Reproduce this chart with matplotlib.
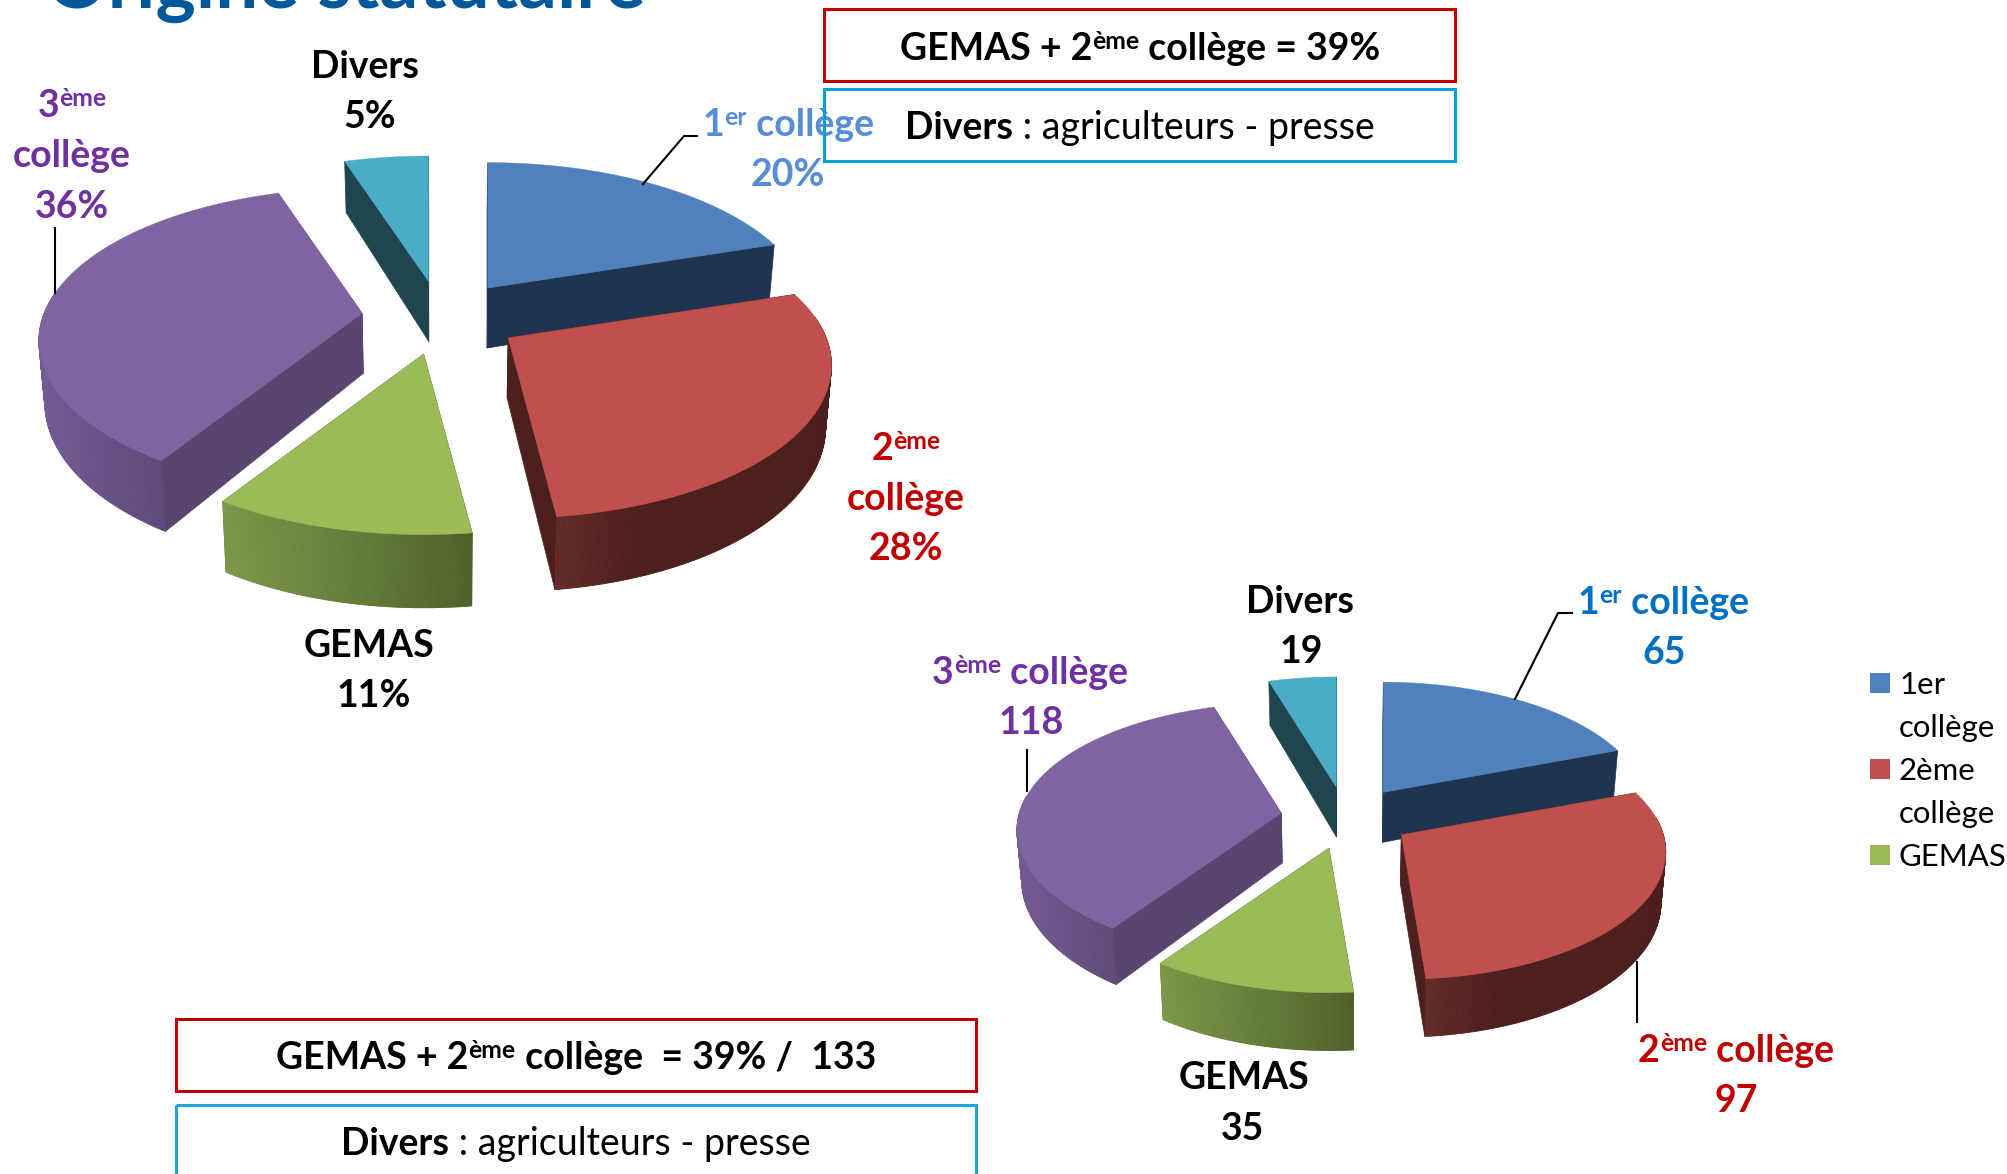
import numpy as np
import matplotlib
matplotlib.use("Agg")
import matplotlib.pyplot as plt
from matplotlib.colors import to_rgb
from matplotlib.patches import Rectangle

plt.rcParams['font.family'] = ['Lato', 'DejaVu Sans']

# ---- data
categories = ['1er collège', '2ème collège', 'GEMAS', '3ème collège', 'Divers']
share_pct = [20, 28, 11, 36, 5]            # printed on the left pie
counts = [65, 97, 35, 118, 19]             # printed on the right pie
right_slice_sizes = [19.3, 29.4, 11, 35.6, 4.7]  # slice sizes
legend_labels = [['1er', 'collège'], ['2ème', 'collège'], ['GEMAS']]

top_colors = ['#4F81BD', '#C0504D', '#9BBB59', '#8064A2', '#4BACC6']
wall_colors = ['#1F344F', '#4D1F1D', '#4F6228', '#59456F', '#1F4650']
rim_stops = [
    [(0, '#1F344F'), (1, '#1F344F')],
    [(0, '#642B27'), (.3, '#4C1E1C'), (1, '#4C1E1C')],
    [(0, '#7C9849'), (1, '#4E6129')],
    [(0, '#745A94'), (1, '#5E4A78')],
    [(0, '#1F4650'), (1, '#1F4650')],
]
BLUE1, BLUE2, PURPLE, RED, BLACK = '#558ED5', '#0070C0', '#7030A0', '#C00000', '#000000'
TITLE = '#00589A'
FS = 27

fig = plt.figure(figsize=(20.07, 11.74), dpi=100)
ax = fig.add_axes([0, 0, 1, 1])
ax.set_xlim(0, 2007)
ax.set_ylim(1174, 0)
ax.axis('off')
rend = fig.canvas.get_renderer()


def pie3d(values, cx, cy, rx, ry, p, d, e=.25, squeeze=.985):
    vals = np.asarray(values, float)
    edges = np.concatenate([[0], np.cumsum(vals)]) / vals.sum() * 2 * np.pi
    mids = (edges[:-1] + edges[1:]) / 2
    order = np.argsort(-np.cos(mids))

    def top(t, r, ax0, ay0):
        s = 1 + p * r * np.cos(t)
        return ax0 + rx * r * np.sin(t) / s, ay0 - ry * r * np.cos(t) / s

    def bot(t, r, ax0, ay0):
        s = 1 + p * r * np.cos(t)
        x, y = top(t, r, ax0, ay0)
        return cx + (x - cx) * squeeze, y + d / s

    for i in order:
        a0 = cx + e * rx * np.sin(mids[i])
        b0 = cy - e * ry * np.cos(mids[i])
        t1, t2 = edges[i], edges[i + 1]
        for t in (t1, t2):
            x1, y1 = top(t, 0, a0, b0)
            x2, y2 = top(t, 1, a0, b0)
            x3, y3 = bot(t, 1, a0, b0)
            x4, y4 = bot(t, 0, a0, b0)
            ax.fill([x1, x2, x3, x4], [y1, y2, y3, y4], color=wall_colors[i], lw=.5, zorder=2 + .01 * i)
        th = np.linspace(t1, t2, 180)
        vis = th[np.cos(th) < 0.15]
        if len(vis) > 1:
            xs = top(vis, 1, a0, b0)[0]
            lo, hi = xs.min(), xs.max()
            stops = rim_stops[i]
            pos = [s[0] for s in stops]
            rgb = np.array([to_rgb(s[1]) for s in stops])
            for a, b in zip(vis[:-1], vis[1:]):
                xa, ya = top(a, 1, a0, b0)
                xb, yb = top(b, 1, a0, b0)
                xc, yc = bot(b, 1, a0, b0)
                xd, yd = bot(a, 1, a0, b0)
                f = ((xa + xb) / 2 - lo) / max(hi - lo, 1)
                col = [np.interp(f, pos, rgb[:, k]) for k in range(3)]
                ax.fill([xa, xb, xc, xd], [ya, yb, yc, yd], color=col, lw=.6, zorder=2.2)
        x, y = top(th, 1, a0, b0)
        ax.fill(np.r_[a0, x], np.r_[b0, y], color=top_colors[i], lw=.3, zorder=3 + .01 * np.where(order == i)[0][0])


def advance(s, size, weight):
    def w(q):
        t = ax.text(0, 0, q, fontsize=size, fontweight=weight)
        v = t.get_window_extent(rend).width
        t.remove()
        return v
    return w('x' + s + 'x') - w('xx')


def rich(segs, xc, y, color=BLACK, size=FS, z=6):
    """segs: (text, 'b'|'r'|'s') ; centred on xc, baseline y"""
    y = y + 1
    sizes = {'b': size, 'r': size, 's': size * .66}
    wgts = {'b': 'bold', 'r': 'normal', 's': 'bold'}
    widths = [advance(s, sizes[k], wgts[k]) for s, k in segs]
    x = xc - sum(widths) / 2
    for (s, k), wd in zip(segs, widths):
        dy = -size * .42 if k == 's' else 0
        ax.text(x, y + dy, s, fontsize=sizes[k], fontweight=wgts[k], color=color, ha='left', va='baseline', zorder=z)
        x += wd


def box(x0, y0, x1, y1, color):
    ax.add_patch(Rectangle((x0, y0), x1 - x0, y1 - y0, fill=False, ec=color, lw=2.2, zorder=8, clip_on=True))


def leader(xs, ys):
    ax.plot(xs, ys, color='black', lw=1.5, zorder=5, solid_joinstyle='miter')


# title (cut by the top edge, as in the reference)
ax.text(46, 8, 'Origine statutaire', fontsize=55, fontweight='bold', color=TITLE, ha='left', va='baseline', zorder=6)

# pies
pie3d(share_pct, 441, 318, 318, 148, .18, 60)
pie3d(right_slice_sizes, 1346, 818, 262, 125, .135, 50)

# boxes
box(824, 9, 1455, 81, RED)
box(824, 89, 1455, 161, '#00A0D8')
box(176, 1019, 976, 1091, RED)
box(176, 1105, 976, 1190, '#1CA8DC')
rich([('GEMAS + 2', 'b'), ('ème', 's'), (' collège = 39%', 'b')], 1140, 59)
rich([('Divers', 'b'), (' : agriculteurs - presse', 'r')], 1140, 138)
rich([('GEMAS + 2', 'b'), ('ème', 's'), (' collège  = 39% /  133', 'b')], 576, 1068)
rich([('Divers', 'b'), (' : agriculteurs - presse', 'r')], 576, 1154)

# left pie labels
rich([('Divers', 'b')], 365, 77)
rich([(f'{share_pct[4]}%', 'b')], 370, 127)
rich([('3', 'b'), ('ème', 's')], 72, 116, PURPLE)
rich([('collège', 'b')], 72, 166, PURPLE)
rich([(f'{share_pct[3]}%', 'b')], 72, 217, PURPLE)
rich([('1', 'b'), ('er', 's'), (' collège', 'b')], 788, 135, BLUE1)
rich([(f'{share_pct[0]}%', 'b')], 788, 185, BLUE1)
rich([('2', 'b'), ('ème', 's')], 906, 459, RED)
rich([('collège', 'b')], 906, 509, RED)
rich([(f'{share_pct[1]}%', 'b')], 906, 559, RED)
rich([('GEMAS', 'b')], 369, 656)
rich([(f'{share_pct[2]}%', 'b')], 374, 706)
leader([643, 684, 697], [184, 136, 136])
leader([54.5, 54.5], [293, 228])

# right pie labels
rich([('Divers', 'b')], 1300, 612)
rich([(str(counts[4]), 'b')], 1301, 662)
rich([('1', 'b'), ('er', 's'), (' collège', 'b')], 1663, 613, BLUE2)
rich([(str(counts[0]), 'b')], 1664, 663, BLUE2)
rich([('3', 'b'), ('ème', 's'), (' collège', 'b')], 1030, 683, PURPLE)
rich([(str(counts[3]), 'b')], 1031, 733, PURPLE)
rich([('GEMAS', 'b')], 1244, 1088)
rich([(str(counts[2]), 'b')], 1243, 1139)
rich([('2', 'b'), ('ème', 's'), (' collège', 'b')], 1736, 1061, RED)
rich([(str(counts[1]), 'b')], 1736, 1111, RED)
leader([1515, 1558, 1572], [699, 613, 613])
leader([1027, 1027], [791, 750])
leader([1637, 1637], [962, 1022])

# legend
yb = 694
for lab, col in zip(legend_labels, top_colors):
    ax.add_patch(Rectangle((1870, yb - 21), 20, 20, fc=col, ec='none', zorder=6))
    for ln in lab:
        ax.text(1899, yb, ln, fontsize=22.4, color='black', ha='left', va='baseline', zorder=6)
        yb += 43

fig.savefig('out.png', dpi=100, facecolor='white')
